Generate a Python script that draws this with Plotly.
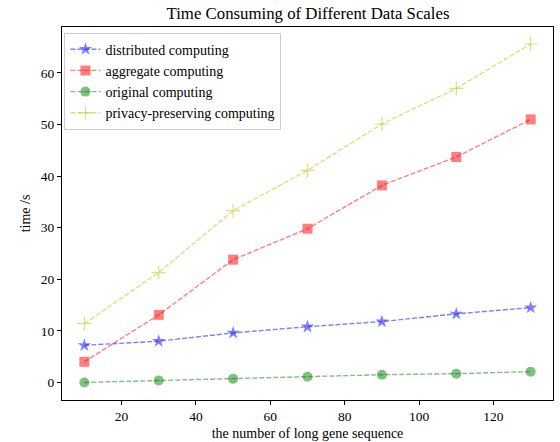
import plotly.graph_objects as go

x = [10, 30, 50, 70, 90, 110, 130]
distributed = [7.2, 8.0, 9.6, 10.8, 11.8, 13.3, 14.5]
aggregate = [4.0, 13.1, 23.8, 29.8, 38.2, 43.7, 51.0]
original = [0.0, 0.4, 0.7, 1.1, 1.5, 1.7, 2.1]
privacy = [11.4, 21.3, 33.3, 41.1, 50.1, 57.0, 65.6]

font = "Liberation Serif, Times New Roman, serif"
fig = go.Figure()
series = [
    ("distributed computing", distributed, "rgba(0,0,255,0.5)", "star", 10),
    ("aggregate computing", aggregate, "rgba(255,0,0,0.5)", "square", 10),
    ("original computing", original, "rgba(0,128,0,0.5)", "circle", 10),
    ("privacy-preserving computing", privacy, "rgba(191,191,0,0.5)", "cross-thin", 10),
]
for name, ys, col, sym, sz in series:
    marker = dict(symbol=sym, size=sz, color=col, line=dict(width=0))
    if sym == "cross-thin":
        marker["line"] = dict(width=1.2, color=col)
    fig.add_trace(go.Scatter(
        x=x, y=ys, name=name, mode="lines+markers",
        line=dict(color=col, width=1.4, dash="5px,2px"),
        marker=marker,
    ))

axis_common = dict(showline=True, mirror=True, linecolor="black", linewidth=1,
                   ticks="outside", ticklen=4, tickcolor="black", showgrid=False,
                   zeroline=False, automargin=False,
                   tickfont=dict(size=13.5, color="black", family=font))
fig.update_layout(
    width=560, height=442,
    margin=dict(l=62, r=7, t=27, b=42),
    plot_bgcolor="white", paper_bgcolor="white",
    font=dict(family=font, color="black", size=14),
    title=dict(text="Time Consuming of Different Data Scales", x=0.55, xanchor="center",
               y=0.97, yanchor="middle", font=dict(size=16.8, family=font, color="black")),
    xaxis=dict(range=[4, 136], tickvals=[20, 40, 60, 80, 100, 120],
               title=dict(text="the number of long gene sequence", font=dict(size=14), standoff=4),
               **axis_common),
    yaxis=dict(range=[-3.4, 68.9], tickvals=[0, 10, 20, 30, 40, 50, 60],
               title=dict(text="time /s", font=dict(size=14), standoff=6),
               **axis_common),
    legend=dict(x=0.005, y=0.985, xanchor="left", yanchor="top",
                bordercolor="#cccccc", borderwidth=1, bgcolor="rgba(255,255,255,0.8)",
                font=dict(size=14, family=font), tracegroupgap=0, itemwidth=30),
    showlegend=True,
)
fig.write_html("out.html", post_script="document.body.style.margin='0px';",
               config={"displayModeBar": False})
